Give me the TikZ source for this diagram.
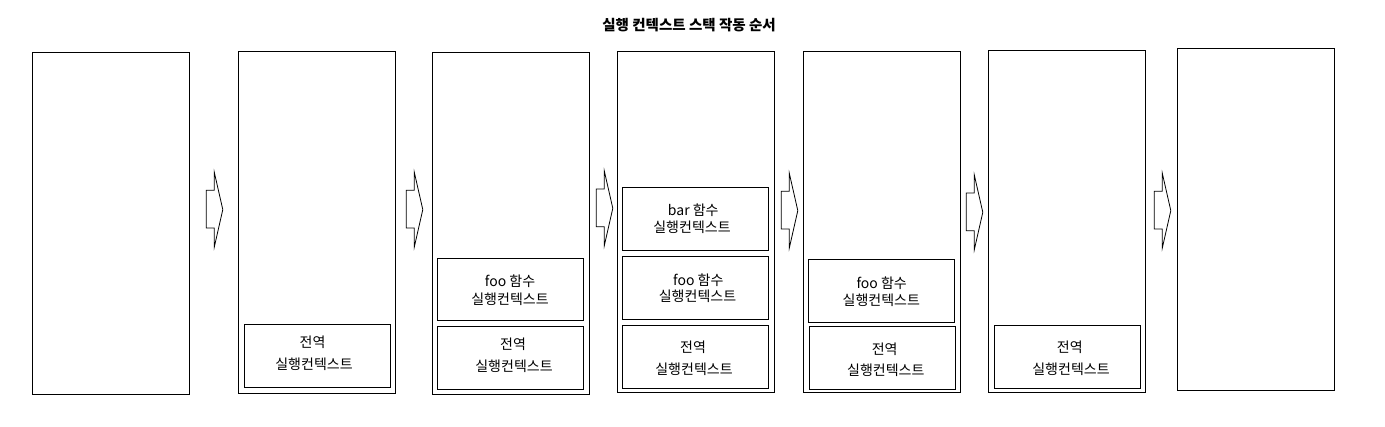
\documentclass[tikz,border=0pt]{standalone}
\usepackage{fontspec}
\setmainfont{Noto Sans CJK KR}
\usetikzlibrary{fit}
\begin{document}
\begin{tikzpicture}[x=1pt,y=-1pt,
  stackbox/.style={draw=black,line width=1pt,inner sep=0pt,outer sep=0pt},
  ctxbox/.style={draw=black,line width=1pt,inner sep=0pt,outer sep=0pt},
  lbl/.style={inner sep=0pt,font=\fontsize{14}{16}\selectfont},
  ttl/.style={inner sep=0pt,font=\fontsize{14.5}{17}\selectfont\bfseries},
  flow/.style={draw=black,line width=0.8pt,line join=miter}]
\useasboundingbox[fill=white] (0,0) rectangle (1385,427);
\newcommand{\bx}[6]{%
  \coordinate (#1-a) at (#3,#4);
  \coordinate (#1-b) at (#5,#6);
  \node[#2,fit=(#1-a)(#1-b)] (#1) {};}
\newcommand{\flowarrow}[3]{%
  \coordinate (#1) at (#2,#3);
  \draw[flow] (#1) ++(8,0) -- ++(0,18) -- ++(-8,0) -- ++(0,37.7) -- ++(8,0)
    -- ++(0,19) -- ++(8.5,-37.4) -- cycle;}
% title
\node[ttl] (title) at (689,25) {실행 컨텍스트 스택 작동 순서};
% stacks
\bx{s1}{stackbox}{32.3}{52.3}{189.5}{394.3}
\bx{s2}{stackbox}{238.3}{51.3}{395.5}{393.3}
\bx{s3}{stackbox}{432.3}{52.3}{589.7}{394.3}
\bx{s4}{stackbox}{617.3}{51.7}{774.3}{393}
\bx{s5}{stackbox}{803.3}{51.3}{960.3}{393}
\bx{s6}{stackbox}{988.3}{50.3}{1145.3}{392.3}
\bx{s7}{stackbox}{1177.3}{48.3}{1334.7}{390.3}
% contexts
\bx{s2g}{ctxbox}{244.3}{324.3}{390.5}{387.3}
\bx{s3f}{ctxbox}{437.3}{258.3}{583.7}{321}
\bx{s3g}{ctxbox}{437.3}{326.3}{583.7}{389.3}
\bx{s4b}{ctxbox}{622.3}{187.3}{768.3}{250.3}
\bx{s4f}{ctxbox}{622.3}{256.3}{768.3}{319.3}
\bx{s4g}{ctxbox}{622.3}{325.3}{768.3}{388.3}
\bx{s5f}{ctxbox}{808.3}{259.3}{954.7}{322.3}
\bx{s5g}{ctxbox}{809.3}{326.3}{955.7}{389.3}
\bx{s6g}{ctxbox}{994.3}{325.3}{1140.3}{388.3}
% labels
\node[lbl] (s2g1) at (312.5,342.3) {전역};
\node[lbl] (s2g2) at (314,364.3) {실행컨텍스트};
\node[lbl] (s3f1) at (510,281.7) {foo 함수};
\node[lbl] (s3f2) at (510,299.3) {실행컨텍스트};
\node[lbl] (s3g1) at (513,344.3) {전역};
\node[lbl] (s3g2) at (514,366) {실행컨텍스트};
\node[lbl] (s4b1) at (693.3,210.3) {bar 함수};
\node[lbl] (s4b2) at (692,227) {실행컨텍스트};
\node[lbl] (s4f1) at (698.3,280) {foo 함수};
\node[lbl] (s4f2) at (697.5,296.7) {실행컨텍스트};
\node[lbl] (s4g1) at (693,347.3) {전역};
\node[lbl] (s4g2) at (694,369) {실행컨텍스트};
\node[lbl] (s5f1) at (881.7,283.3) {foo 함수};
\node[lbl] (s5f2) at (881.3,300) {실행컨텍스트};
\node[lbl] (s5g1) at (884.7,349) {전역};
\node[lbl] (s5g2) at (885.8,370) {실행컨텍스트};
\node[lbl] (s6g1) at (1069.8,347.7) {전역};
\node[lbl] (s6g2) at (1071,369.3) {실행컨텍스트};
% arrows between stages
\flowarrow{a1}{206.3}{172.3}
\flowarrow{a2}{406.3}{172.3}
\flowarrow{a3}{596.3}{171}
\flowarrow{a4}{781.3}{173.3}
\flowarrow{a5}{966.3}{175}
\flowarrow{a6}{1154.3}{173.3}
\end{tikzpicture}
\end{document}
